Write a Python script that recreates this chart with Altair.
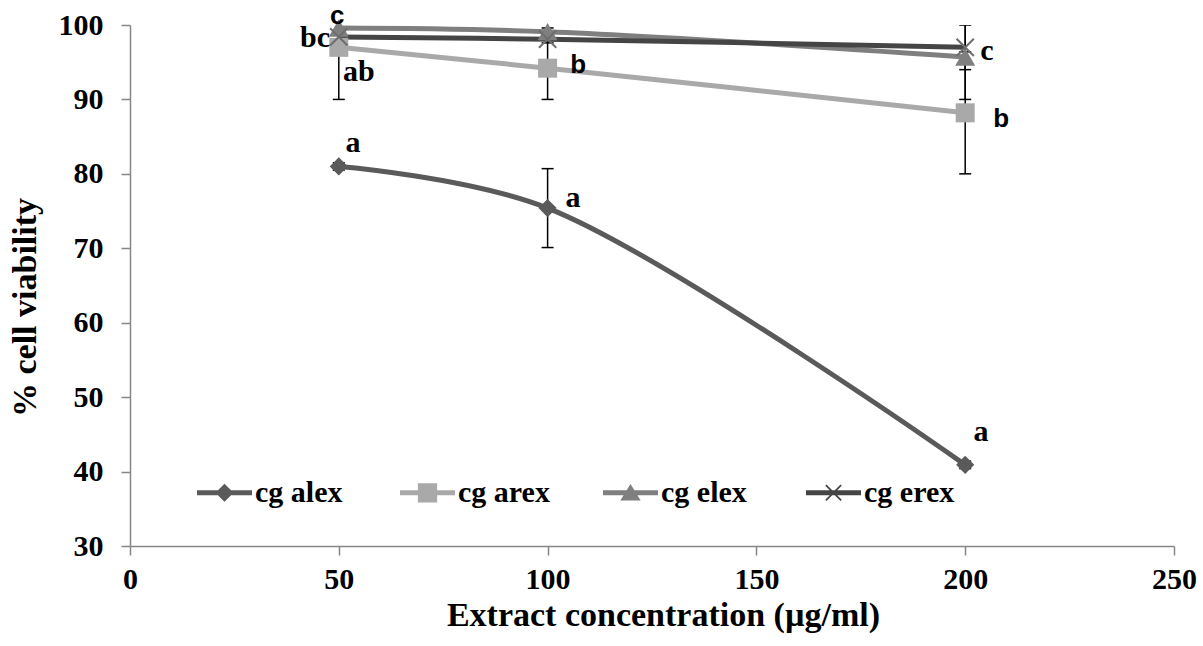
import altair as alt
import pandas as pd

# ---------------- data ----------------
conc = [50, 100, 200]
series_names = ["cg alex", "cg arex", "cg elex", "cg erex"]
alex = [81.0, 75.4, 40.9]
arex = [97.0, 94.2, 88.2]
elex = [99.6, 99.1, 95.7]
erex = [98.4, 98.1, 97.0]
alex_err = [0.5, 5.3, 0.5]
arex_err = [7.0, 4.2, 8.2]
elex_err = [0.5, 0.5, 5.7]
erex_err = [0.5, 0.5, 3.0]

line_colors = ["#5a5a5a", "#a9a9a9", "#7f7f7f", "#454545"]
marker_colors = ["#5a5a5a", "#a9a9a9", "#7f7f7f", "#6e6e6e"]

label_text = ["c", "bc", "ab", "a", "b", "a", "c", "b", "a"]
label_x = [49.6, 44.3, 54.8, 53.4, 107.3, 106.1, 205.2, 208.6, 203.8]
label_y = [100.2, 97.0, 92.5, 82.9, 93.5, 75.5, 95.3, 86.3, 44.1]
label_sans = [True, False, False, False, True, False, False, True, False]

x_ticks = [0, 50, 100, 150, 200, 250]
y_ticks = [30, 40, 50, 60, 70, 80, 90, 100]

# ---------------- tables ----------------
values = [alex, arex, elex, erex]
errs = [alex_err, arex_err, elex_err, erex_err]
rows = []
for s, vals, es in zip(series_names, values, errs):
    for c, v, e in zip(conc, vals, es):
        rows.append({"series": s, "conc": c, "value": v, "err": e})
df = pd.DataFrame(rows)

labels = pd.DataFrame({"x": label_x, "y": label_y, "text": label_text, "sans": label_sans})

SERIF = "Liberation Serif"
SANS = "Liberation Sans"
AXIS_GREY = "#868686"
FS = 30
TFS = 34

x_axis = alt.Axis(values=x_ticks, grid=False, title="Extract concentration (µg/ml)",
                  domainColor=AXIS_GREY, domainWidth=1.5, tickColor=AXIS_GREY, tickWidth=1.5,
                  tickSize=9, labelFont=SERIF, labelFontSize=FS, labelFontWeight="bold",
                  labelColor="black", labelPadding=9, titleFont=SERIF, titleFontSize=TFS,
                  titleFontWeight="bold", titleColor="black", titlePadding=4, labelFlush=False,
                  titleX=533)
y_axis = alt.Axis(values=y_ticks, grid=False, title="% cell viability",
                  domainColor=AXIS_GREY, domainWidth=1.5, tickColor=AXIS_GREY, tickWidth=1.5,
                  tickSize=9, labelFont=SERIF, labelFontSize=FS, labelFontWeight="bold",
                  labelColor="black", labelPadding=18, titleFont=SERIF, titleFontSize=TFS,
                  titleFontWeight="bold", titleColor="black", titlePadding=16, labelFlush=False,
                  titleY=282)

xs = alt.Scale(domain=[0, 250], nice=False, zero=False)
ys = alt.Scale(domain=[30, 100], nice=False, zero=False)

def X(field="conc"):
    return alt.X(f"{field}:Q", scale=xs, axis=x_axis)

def Y(field):
    return alt.Y(f"{field}:Q", scale=ys, axis=y_axis)

base = alt.Chart(df).transform_calculate(
    lo="datum.value - datum.err", hi="datum.value + datum.err"
)

err_rule = base.mark_rule(color="black", strokeWidth=1.5, clip=True).encode(
    x=X(), y=Y("lo"), y2="hi:Q"
)
cap_lo = base.mark_point(shape="stroke", size=144, filled=False, color="black",
                         strokeWidth=1.5, opacity=1, clip=True).encode(x=X(), y=Y("lo"))
cap_hi = base.mark_point(shape="stroke", size=144, filled=False, color="black",
                         strokeWidth=1.5, opacity=1, clip=True).encode(x=X(), y=Y("hi"))

lines = base.mark_line(strokeWidth=5, interpolate="catmull-rom").encode(
    x=X(), y=Y("value"),
    color=alt.Color("series:N", scale=alt.Scale(domain=series_names, range=line_colors), legend=None),
    order=alt.Order("conc:Q"),
)

shapes = ["diamond", "square", "triangle-up", "M-1,-1L1,1M-1,1L1,-1"]
filled = [True, True, True, False]
sizes = [330, 361, 400, 300]
point_layers = []
for s, shp, f, sz, col in zip(series_names, shapes, filled, sizes, marker_colors):
    kw = dict(shape=shp, filled=f, size=sz, opacity=1)
    if f:
        kw.update(fill=col, strokeWidth=0)
    else:
        kw.update(stroke=col, strokeWidth=2)
    point_layers.append(
        base.transform_filter(alt.datum.series == s).mark_point(**kw).encode(x=X(), y=Y("value"))
    )

# legend-only layer (no data drawn)
legend_paths = [
    "M-1,-0.09L1,-0.09L1,0.09L-1,0.09Z M0,-0.33L0.33,0L0,0.33L-0.33,0Z",
    "M-1,-0.09L1,-0.09L1,0.09L-1,0.09Z M-0.35,-0.35L0.35,-0.35L0.35,0.35L-0.35,0.35Z",
    "M-1,-0.09L1,-0.09L1,0.09L-1,0.09Z M0,-0.32L0.37,0.28L-0.37,0.28Z",
    "M-1,-0.09L1,-0.09L1,0.09L-1,0.09Z M-0.3,-0.255L-0.255,-0.3L0.3,0.255L0.255,0.3Z M0.255,-0.3L0.3,-0.255L-0.255,0.3L-0.3,0.255Z",
]
legend = alt.Legend(
    title=None, orient="none", legendX=67, legendY=440, direction="horizontal",
    symbolSize=3025, symbolStrokeWidth=0, labelFont=SERIF, labelFontSize=FS,
    labelFontWeight="bold", labelColor="black", labelOffset=3, columnPadding=53,
    gridAlign="all", padding=0, labelLimit=300,
)
legend_layer = alt.Chart(df).transform_filter("false").mark_point(filled=True, opacity=1).encode(
    fill=alt.Fill("series:N", scale=alt.Scale(domain=series_names, range=line_colors), legend=legend),
    shape=alt.Shape("series:N", scale=alt.Scale(domain=series_names, range=legend_paths), legend=legend),
)

text_serif = alt.Chart(labels).transform_filter("!datum.sans").mark_text(
    font=SERIF, fontSize=FS, fontWeight="bold", color="black", align="center", baseline="alphabetic"
).encode(x=X("x"), y=Y("y"), text="text:N")
text_sans = alt.Chart(labels).transform_filter("datum.sans").mark_text(
    font=SANS, fontSize=26, fontWeight="bold", color="black", align="center", baseline="alphabetic"
).encode(x=X("x"), y=Y("y"), text="text:N")

chart = alt.layer(
    err_rule, cap_lo, cap_hi, lines, *point_layers, legend_layer, text_serif, text_sans
).resolve_scale(fill="independent", shape="independent").properties(
    width=1044, height=521,
    padding={"left": 130, "top": 25, "right": 29, "bottom": 100},
    autosize=alt.AutoSizeParams(type="none"),
    background="white",
).configure_view(stroke=None)

chart.save("out.html", embed_options={"renderer": "svg", "actions": False})
